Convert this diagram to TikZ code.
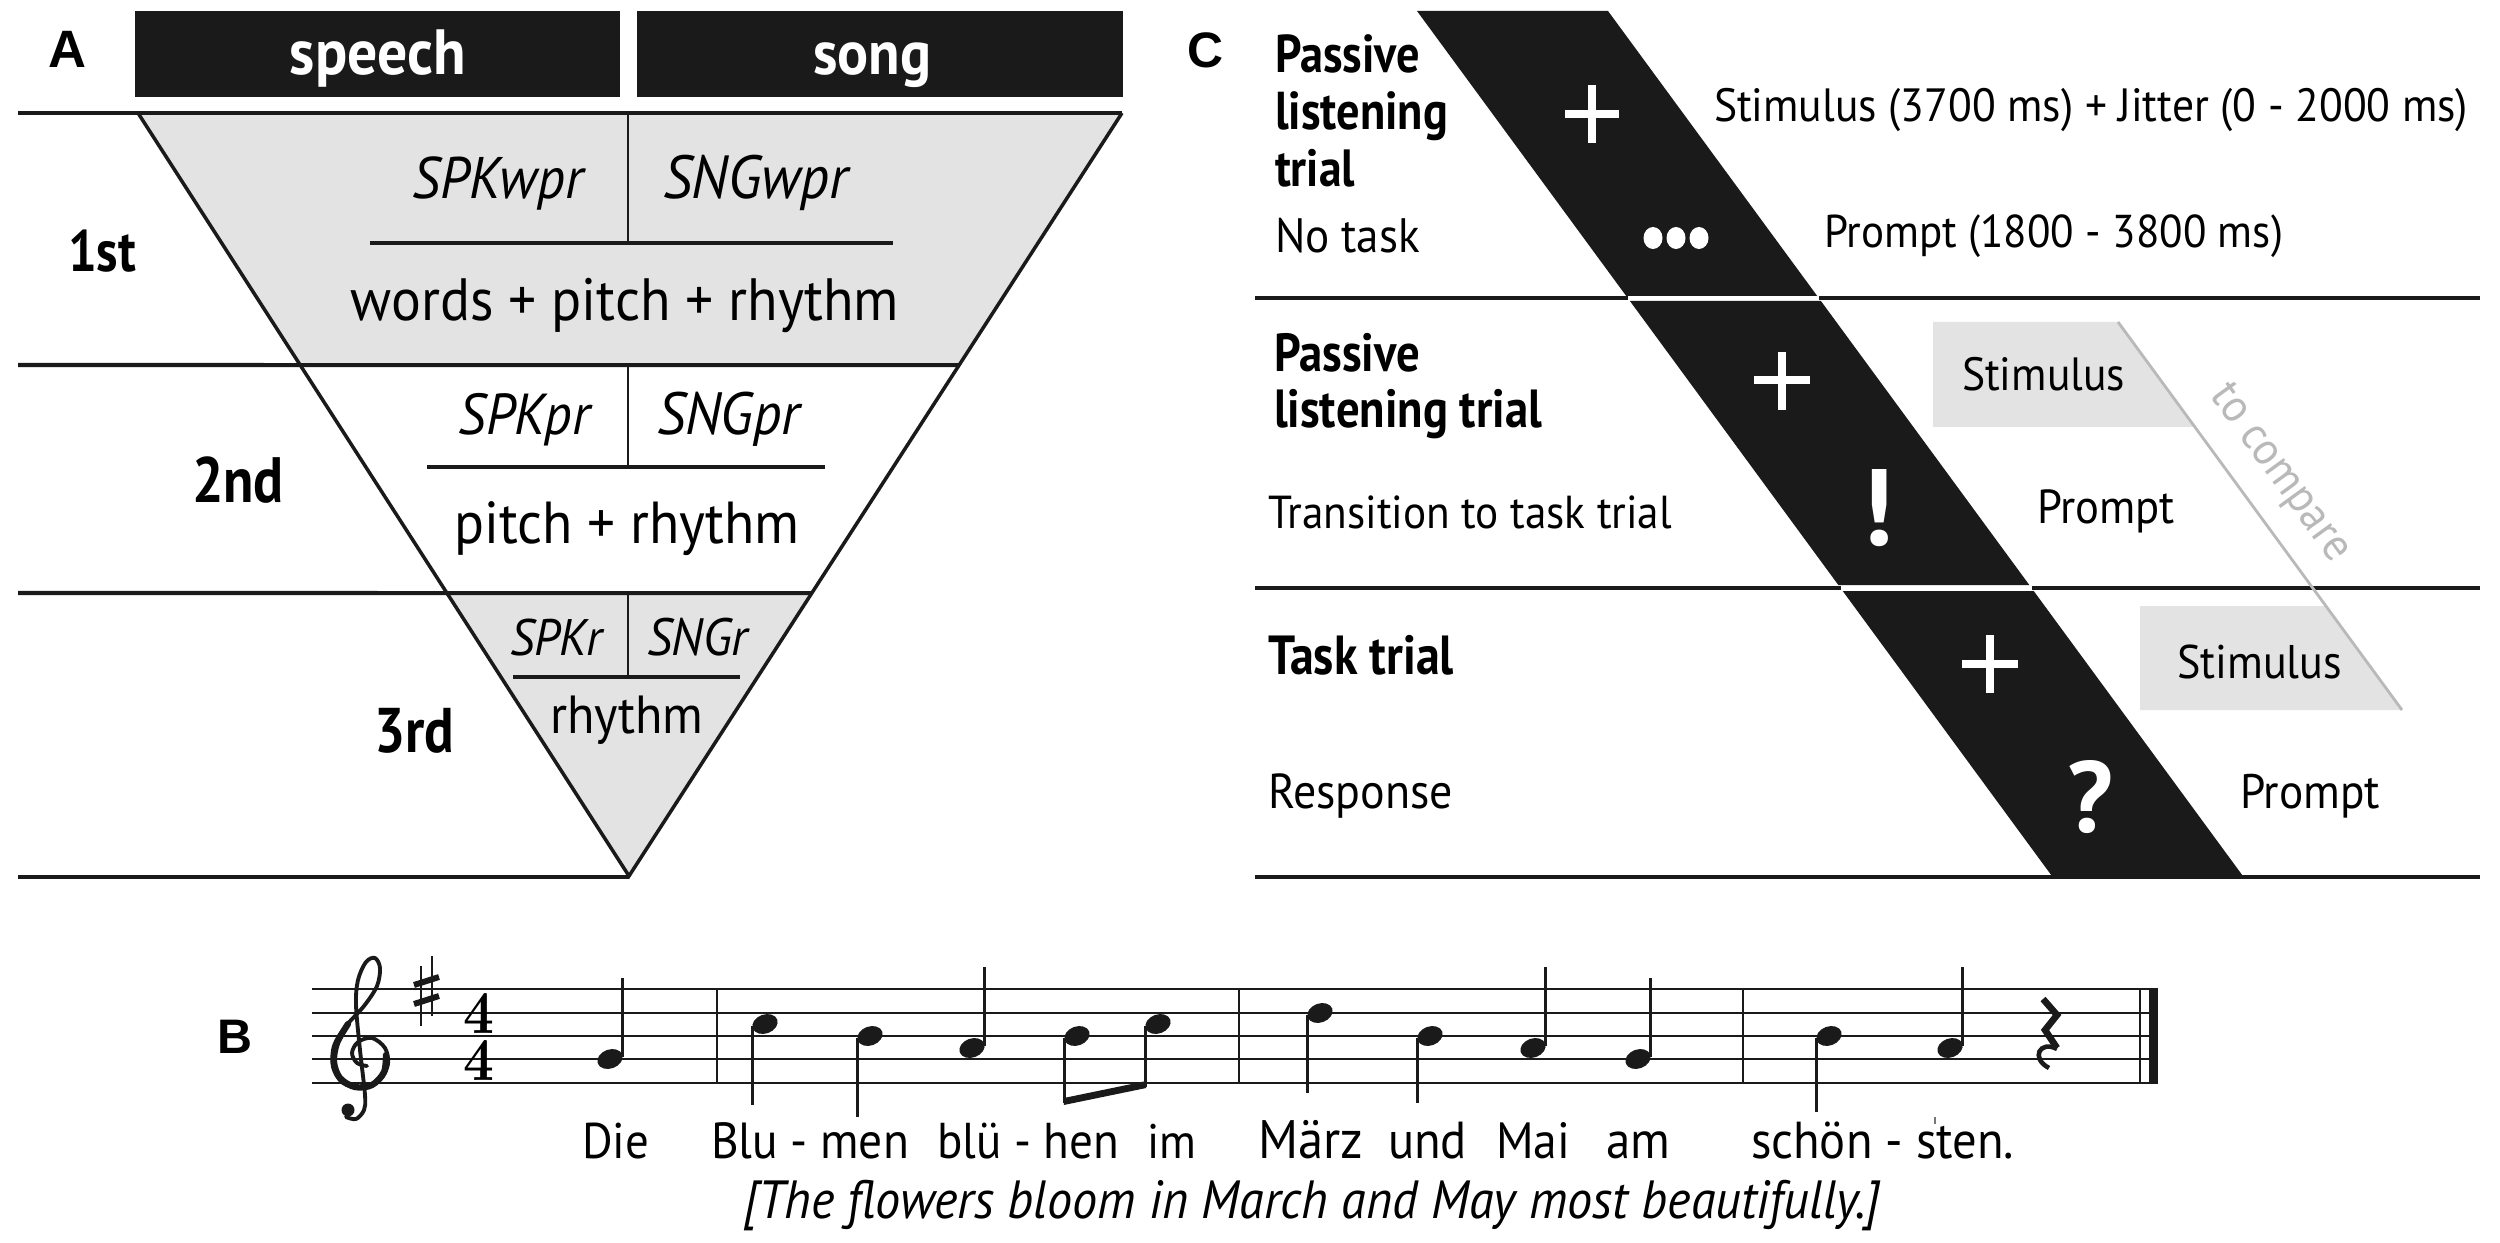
\documentclass[tikz,border=0pt]{standalone}
\usepackage{fontspec}
\setmainfont{PT Sans}
\newfontfamily\labfont{Liberation Sans}
\newfontfamily\lmfont{Latin Modern Roman}
\usepackage{graphicx}
\usetikzlibrary{calc}
\newdimen\pxu \pxu=0.01cm
\newcommand\TXw[2]{\scalebox{1}[1.07]{\resizebox{#1\pxu}{!}{#2}}}
\newcommand\TXb[2]{\scalebox{1}[1.15]{\resizebox{#1\pxu}{!}{#2}}}
\newcommand\TXp[2]{\resizebox{#1\pxu}{!}{#2}}
\newcommand\THt[2]{\resizebox{!}{#1\pxu}{#2}}
\definecolor{dk}{RGB}{26,26,26}
\definecolor{lg}{RGB}{227,227,227}
\definecolor{cg}{RGB}{185,185,185}
\newcommand\noteup[3]{\fill[dk,rotate around={20:(#1,#2)}] (#1,#2) ellipse [x radius=13, y radius=9.5];
  \draw[stemline] (#1+12.5,#2-2) -- (#1+12.5,#3);}
\newcommand\notedn[3]{\fill[dk,rotate around={20:(#1,#2)}] (#1,#2) ellipse [x radius=13, y radius=9.5];
  \draw[stemline] (#1-12.5,#2+2) -- (#1-12.5,#3);}
\begin{document}
\begin{tikzpicture}[x=0.01cm,y=-0.01cm,
  every node/.style={inner sep=0pt,outer sep=0pt},
  sepline/.style={line width=1.14pt,draw=dk},
  triedge/.style={line width=1.0pt,draw=dk,line join=miter},
  divline/.style={line width=0.7pt,draw=dk},
  hline/.style={line width=1.14pt,draw=dk},
  hdrbox/.style={fill=dk,minimum width=4.85cm,minimum height=0.86cm},
  band/.style={fill=dk},
  cross/.style={draw=white,line width=2.3pt},
  stimbox/.style={fill=lg},
  staffline/.style={line width=0.6pt,draw=dk},
  stemline/.style={line width=0.7pt,draw=dk},
  lyric/.style={anchor=base west},
  lbl/.style={anchor=base west}]
\useasboundingbox (0,0) rectangle (2500,1243);

% ================= Panel A =================
\node[anchor=base] (labA) at (67,68) {\TXp{38}{\labfont\bfseries A}};
\node[hdrbox] (spbox) at (377.5,54) {};
\node[hdrbox] (sgbox) at (880,54) {};
\node[anchor=base,text=white] (sptxt) at (378,75) {\TXw{176}{\bfseries speech}};
\node[anchor=base,text=white] (sgtxt) at (872,75) {\TXw{118}{\bfseries song}};

\coordinate (TL) at (138,113);
\coordinate (TR) at (1122,113);
\coordinate (AP) at (629,876);
\coordinate (L2) at ($(TL)!0.3303!(AP)$);
\coordinate (R2) at ($(TR)!0.3303!(AP)$);
\coordinate (L3) at ($(TL)!0.6291!(AP)$);
\coordinate (R3) at ($(TR)!0.6291!(AP)$);
\coordinate (S1) at (18,113);
\coordinate (S2) at (18,365);
\coordinate (S3) at (18,593);
\coordinate (S4) at (18,877);
\coordinate (B4) at (629,877);

\fill[lg] (TL) -- (TR) -- (R2) -- (L2) -- cycle;
\fill[lg] (L3) -- (R3) -- (AP) -- cycle;
\draw[sepline] (S1) -- (TR);
\draw[sepline] (S2) -- (R2);
\draw[sepline] (S3) -- (R3);
\draw[sepline] (S4) -- (B4);
\draw[triedge] (TL) -- (AP) -- (TR);

% row 1
\draw[divline] (628,113) -- (628,243);
\draw[hline] (370,243) -- (893,243);
\node[anchor=base east] (spkwpr) at (583,199) {\TXw{170}{\itshape SPKwpr}};
\node[anchor=base west] (sngwpr) at (663,199) {\TXw{185}{\itshape SNGwpr}};
\node[anchor=base] (wpr) at (625,321) {\TXw{548}{words + pitch + rhythm}};
\node[anchor=base] (first) at (102,272) {\TXb{68}{\bfseries 1st}};
% row 2
\draw[divline] (628,365) -- (628,467);
\draw[hline] (427,467) -- (825,467);
\node[anchor=base east] (spkpr) at (590,435) {\TXw{131}{\itshape SPKpr}};
\node[anchor=base west] (sngpr) at (657,435) {\TXw{143}{\itshape SNGpr}};
\node[anchor=base] (pr) at (627,543) {\TXw{345}{pitch + rhythm}};
\node[anchor=base] (second) at (238,503) {\TXb{92}{\bfseries 2nd}};
% row 3
\draw[divline] (628,593) -- (628,677);
\draw[hline] (513,677) -- (740,677);
\node[anchor=base east] (spkr) at (602,655) {\TXw{92}{\itshape SPKr}};
\node[anchor=base west] (sngr) at (647,655) {\TXw{101}{\itshape SNGr}};
\node[anchor=base] (rh) at (627,733) {\TXw{153}{rhythm}};
\node[anchor=base] (third) at (414,752) {\TXb{80}{\bfseries 3rd}};

% ================= Panel C =================
\node[anchor=base] (labC) at (1205,68) {\TXp{36}{\labfont\bfseries C}};
% separator lines
\draw[sepline] (1255,298) -- (1628,298);
\draw[sepline] (1819,298) -- (2480,298);
\draw[sepline] (1255,588) -- (1841,588);
\draw[sepline] (2032,588) -- (2480,588);
\draw[sepline] (1255,877) -- (2480,877);
% band pieces
\fill[band] (1417,11) -- (1608,11) -- (1817.2,296) -- (1626.2,296) -- cycle;
\fill[band] (1629.9,301) -- (1820.9,301) -- (2029.3,585) -- (1838.3,585) -- cycle;
\fill[band] (1842.7,591) -- (2033.7,591) -- (2243.6,877) -- (2052.6,877) -- cycle;
% symbols in band
\draw[cross] (1565,114) -- (1619,114);
\draw[cross] (1592,85) -- (1592,143);
\fill[white] (1653,238) ellipse [x radius=9.5, y radius=11];
\fill[white] (1676,238) ellipse [x radius=9.5, y radius=11];
\fill[white] (1699,238) ellipse [x radius=9.5, y radius=11];
\draw[cross] (1754,380) -- (1810,380);
\draw[cross] (1782,352) -- (1782,410);
\node[anchor=base,text=white] (excl) at (1877,545) {\THt{76}{\bfseries !}};
\draw[cross] (1962,664) -- (2018,664);
\draw[cross] (1990,635) -- (1990,693);
\node[anchor=base,text=white] (quest) at (2090,832) {\THt{72}{\bfseries ?}};
% stimulus boxes and compare line
\fill[stimbox] (1933,322) -- (2118,322) -- (2195,427) -- (1933,427) -- cycle;
\fill[stimbox] (2140,606) -- (2326,606) -- (2402,710) -- (2140,710) -- cycle;
\coordinate (cmpA) at (2118,322);
\coordinate (cmpB) at (2402,710);
\draw[cg,line width=0.8pt] (cmpA) -- (cmpB);
\node[rotate=-54,text=cg] (cmp) at (2279,474) {\TXw{208}{to compare}};
% texts
\node[lbl] (p1a) at (1275,73) {\TXb{145}{\bfseries Passive}};
\node[lbl] (p1b) at (1275,130) {\TXb{173}{\bfseries listening}};
\node[lbl] (p1c) at (1275,187) {\TXb{80}{\bfseries trial}};
\node[lbl] (p1d) at (1275,253) {\TXw{145}{No task}};
\node[lbl] (s1) at (1714,122) {\TXw{754}{Stimulus (3700 ms) + Jitter (0 - 2000 ms)}};
\node[lbl] (pr1) at (1824,248) {\TXw{459}{Prompt (1800 - 3800 ms)}};
\node[lbl] (p2a) at (1274,372) {\TXb{146}{\bfseries Passive}};
\node[lbl] (p2b) at (1274,428) {\TXb{268}{\bfseries listening trial}};
\node[lbl] (p2c) at (1268,528) {\TXw{404}{Transition to task trial}};
\node[lbl] (st2) at (1962,390) {\TXw{163}{Stimulus}};
\node[lbl] (pr2) at (2037,523) {\TXw{138}{Prompt}};
\node[lbl] (p3a) at (1268,674) {\TXb{186}{\bfseries Task trial}};
\node[lbl] (p3b) at (1268,808) {\TXw{185}{Response}};
\node[lbl] (st3) at (2177,678) {\TXw{165}{Stimulus}};
\node[lbl] (pr3) at (2240,808) {\TXw{140}{Prompt}};

% ================= Panel B =================
\node[anchor=base] (labB) at (235,1053) {\TXp{35}{\labfont\bfseries B}};
\foreach \yy in {989,1013,1036,1059,1083} {\draw[staffline] (312,\yy) -- (2158,\yy);}
\foreach \xx in {717,1239,1743} {\draw[staffline] (\xx,989) -- (\xx,1083);}
\draw[staffline] (2140,989) -- (2140,1083);
\fill[dk] (2149,988) rectangle (2158,1084);
% treble clef
\draw[dk,line width=1.1pt,line cap=round,line join=round] plot[smooth,tension=0.55] coordinates {
 (367,1066) (357,1063) (352,1053) (358,1042) (372,1038) (385,1048) (388,1064) (380,1080)
 (362,1088) (343,1083) (333,1067) (334,1046) (346,1026) (364,1006) (377,986) (380,968)
 (375,958) (366,962) (358,980) (356,1005) (360,1050) (365,1095) (364,1110) (356,1119) (346,1117)};
\draw[dk,line width=1.8pt,line cap=round] plot[smooth,tension=0.55] coordinates {
 (386,1055) (384,1072) (372,1085) (355,1087) (340,1078) (334,1062) (337,1043) (348,1024)};
\fill[dk] (348,1110) circle [radius=6.5];
% key signature (sharp)
\draw[dk,line width=0.55pt] (421,966) -- (421,1026);
\draw[dk,line width=0.55pt] (432,956) -- (432,1016);
\draw[dk,line width=1.7pt] (414,985) -- (439,977);
\draw[dk,line width=1.7pt] (414,1004) -- (439,996);
% time signature
\node (ts1) at (479,1013) {\scalebox{0.88}[1]{\THt{40}{\lmfont\bfseries 4}}};
\node (ts2) at (479,1060) {\scalebox{0.88}[1]{\THt{40}{\lmfont\bfseries 4}}};
% notes
\noteup{610}{1059}{978}
\notedn{765}{1024}{1105}
\notedn{870}{1036}{1117}
\noteup{972}{1048}{967}
\notedn{1077}{1036}{1103}
\notedn{1158}{1024}{1087}
\fill[dk] (1063.8,1098) -- (1146.2,1081) -- (1146.2,1088) -- (1063.8,1105) -- cycle;
\notedn{1320}{1013}{1093}
\notedn{1430}{1036}{1103}
\noteup{1533}{1048}{967}
\noteup{1638}{1059}{978}
\notedn{1829}{1036}{1112}
\noteup{1950}{1048}{967}
% quarter rest
\draw[dk,line width=1.9pt,line join=miter] (2043,999) -- (2057,1015) -- (2045,1030) -- (2057,1048);
\draw[dk,line width=1.3pt] (2057,1049) .. controls (2040,1040) and (2030,1058) .. (2049,1068);
% lyrics
\node[lyric] (w1) at (582,1158) {\TXw{67}{Die}};
\node[lyric] (w2) at (711,1158) {\TXw{198}{Blu - men}};
\node[lyric] (w3) at (937,1158) {\TXw{182}{blü - hen}};
\node[lyric] (w4) at (1147,1158) {\TXw{49}{im}};
\node[lyric] (w5) at (1258,1158) {\TXw{105}{März}};
\node[lyric] (w6) at (1388,1158) {\TXw{79}{und}};
\node[lyric] (w7) at (1496,1158) {\TXw{74}{Mai}};
\node[lyric] (w8) at (1606,1158) {\TXw{64}{am}};
\node[lyric] (w9) at (1751,1158) {\TXw{263}{schön - sten.}};
\draw[dk!60,line width=0.5pt] (1935,1117) -- (1935,1124);
\node[anchor=base] (transl) at (1312,1218) {\TXw{1137}{\itshape [The flowers bloom in March and May most beautifully.]}};
\end{tikzpicture}
\end{document}
